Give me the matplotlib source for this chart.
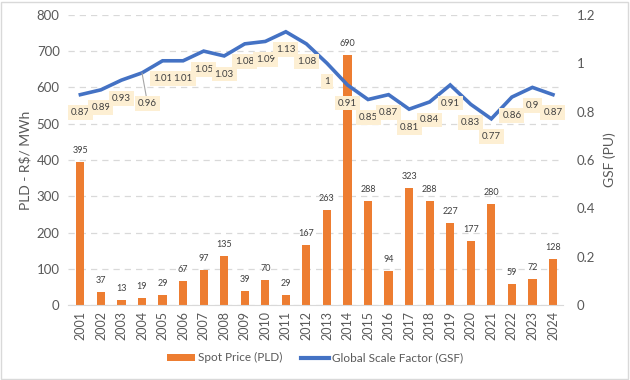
import matplotlib
matplotlib.use("Agg")
import matplotlib.pyplot as plt
from matplotlib.patches import Rectangle
from matplotlib.lines import Line2D
from matplotlib.patches import Patch

years = [str(y) for y in range(2001, 2025)]
pld = [395, 37, 13, 19, 29, 67, 97, 135, 39, 70, 29, 167, 263, 690, 288, 94, 323, 288, 227, 177, 280, 59, 72, 128]
gsf = [0.87, 0.89, 0.93, 0.96, 1.01, 1.01, 1.05, 1.03, 1.08, 1.09, 1.13, 1.08, 1.0, 0.91, 0.85, 0.87, 0.81, 0.84, 0.91, 0.83, 0.77, 0.86, 0.90, 0.87]
gsf_labels = ["0.87", "0.89", "0.93", "0.96", "1.01", "1.01", "1.05", "1.03", "1.08", "1.09", "1.13", "1.08", "1", "0.91", "0.85", "0.87", "0.81", "0.84", "0.91", "0.83", "0.77", "0.86", "0.9", "0.87"]

plt.rcParams['font.family'] = ['Lato', 'DejaVu Sans']

ORANGE = '#ED7D31'
BLUE = '#4472C4'
GRAY = '#595959'
BOX = '#FDEFD3'

fig = plt.figure(figsize=(6.3, 3.8), dpi=100)
ax = fig.add_axes([0.108, 0.197, 0.786, 0.764])
ax2 = ax.twinx()

x = list(range(len(years)))
ax.bar(x, pld, width=0.4, color=ORANGE, zorder=2)
for xi, v in zip(x, pld):
    ax.annotate(str(v), (xi, v), xytext=(0, 5), textcoords='offset points',
                ha='center', va='bottom', fontsize=6.5, color='#404040')

ax.set_ylim(0, 800)
ax.set_yticks(range(0, 801, 100))
ax.set_xlim(-0.6, 23.5)
ax.set_xticks(x)
ax.set_xticklabels(years, rotation=90, fontsize=9, color=GRAY)
ax.tick_params(axis='y', labelsize=9.5, colors=GRAY, length=0, pad=6)
ax.tick_params(axis='x', length=0, pad=4)
ax.grid(axis='y', color='#D9D9D9', linestyle=(0, (5, 4)), linewidth=0.9, zorder=0)
ax.set_axisbelow(True)
for s in ['top', 'right', 'left']:
    ax.spines[s].set_visible(False)
ax.spines['bottom'].set_color('#D9D9D9')
ax.set_ylabel('PLD - R$/ MWh', fontsize=10, color=GRAY, labelpad=4)

ax2.plot(x, gsf, color=BLUE, linewidth=2.6, zorder=3, solid_joinstyle='miter')
ax2.set_ylim(0, 1.2)
ax2.set_yticks([0, 0.2, 0.4, 0.6, 0.8, 1.0, 1.2])
ax2.set_yticklabels(['0', '0.2', '0.4', '0.6', '0.8', '1', '1.2'])
ax2.tick_params(axis='y', labelsize=9.5, colors=GRAY, length=0, pad=10)
for s in ['top', 'right', 'left', 'bottom']:
    ax2.spines[s].set_visible(False)
ax2.set_ylabel('GSF (PU)', fontsize=10, color=GRAY, labelpad=6)

for i, (xi, v, lab) in enumerate(zip(x, gsf, gsf_labels)):
    if i == 3:
        ax2.annotate(lab, (xi, v), xytext=(4, -22), textcoords='offset points',
                     ha='center', va='center', fontsize=7, color='#404040',
                     bbox=dict(boxstyle='square,pad=0.3', fc=BOX, ec='none'),
                     arrowprops=dict(arrowstyle='-', color='#A6A6A6', lw=0.8,
                                     shrinkA=0, shrinkB=0), zorder=4)
    else:
        ax2.annotate(lab, (xi, v), xytext=(0, -13), textcoords='offset points',
                     ha='center', va='center', fontsize=7, color='#404040',
                     bbox=dict(boxstyle='square,pad=0.3', fc=BOX, ec='none'), zorder=4)

handles = [Patch(facecolor=ORANGE, edgecolor='none', label='Spot Price (PLD)'),
           Line2D([0], [0], color=BLUE, lw=3, label='Global Scale Factor (GSF)')]
fig.legend(handles=handles, loc='center', bbox_to_anchor=(0.5, 0.058), ncol=2,
           frameon=False, fontsize=8.5, labelcolor=GRAY, handlelength=2.4,
           handleheight=0.55, columnspacing=1.6, handletextpad=0.2)

fig.patches.append(Rectangle((0.002, 0.003), 0.995, 0.993, transform=fig.transFigure,
                             fill=False, edgecolor='#D9D9D9', linewidth=1))

fig.savefig('out.png', dpi=100)
